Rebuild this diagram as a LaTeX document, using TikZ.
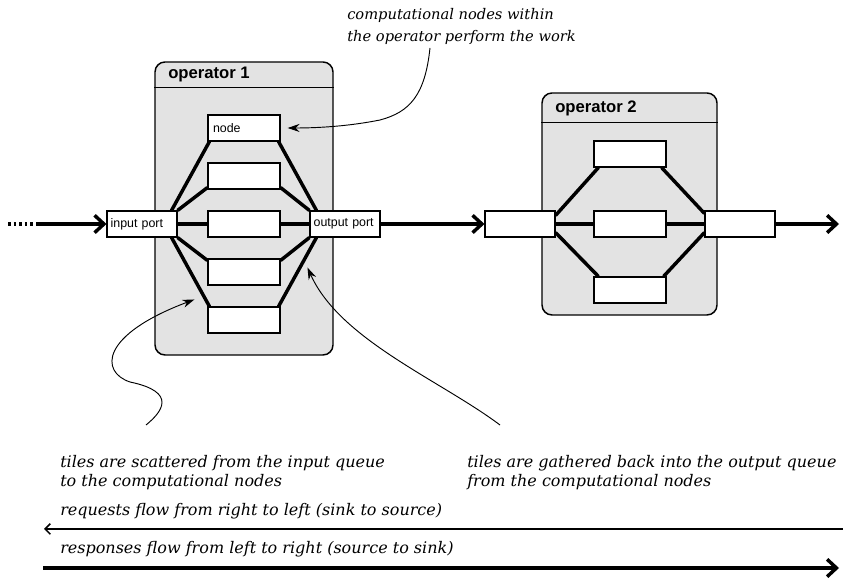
\documentclass[tikz,border=0pt]{standalone}
\usepackage{fontspec}
\setmainfont{DejaVu Serif}
\newfontfamily\sansf{Liberation Sans}
\usetikzlibrary{arrows.meta,calc}
\pgfdeclarelayer{back}
\pgfdeclarelayer{mid}
\pgfsetlayers{back,mid,main}
\tikzset{
 opbox/.style={draw=black, line width=1.1pt, fill=gray!22, rounded corners=7.5pt, inner sep=0pt},
 cnode/.style={draw=black, fill=white, line width=0.8pt, inner xsep=3.75pt, inner ysep=0pt,
   text width=46.5pt, minimum width=54pt, minimum height=19.5pt, align=left,
   font=\sansf\fontsize{9.3}{10}\selectfont},
 port/.style={cnode, inner xsep=2.75pt, text width=47pt, minimum width=52.5pt},
 link/.style={line width=2.6pt},
 flow/.style={line width=2.6pt, -{Straight Barb[length=7pt,width=13pt]}},
 callout/.style={line width=0.7pt, -{Stealth[length=9pt,width=6pt]}},
 note/.style={font=\itshape\fontsize{12}{14.5}\selectfont, align=left, inner sep=0pt, anchor=north west},
 topnote/.style={note, font=\itshape\fontsize{11}{16.5}\selectfont},
 oneline/.style={note, anchor=base west},
 oplabel/.style={font=\sansf\bfseries\fontsize{12.5}{14}\selectfont, inner sep=0pt, anchor=base west},
}
\begin{document}
\begin{tikzpicture}[x=0.75pt,y=-0.75pt]
\useasboundingbox (0,0) rectangle (843,580);

% operator boxes
\begin{pgfonlayer}{back}
\node[opbox, minimum width=133.5pt, minimum height=219.75pt] (op1) at (244,208.5) {};
\node[opbox, minimum width=131.25pt, minimum height=166.5pt] (op2) at (629.5,204) {};
\end{pgfonlayer}
\draw[line width=0.8pt] ($(op1.north west)+(0,26)$) -- ($(op1.north east)+(0,26)$);
\draw[line width=0.8pt] ($(op2.north west)+(0,30)$) -- ($(op2.north east)+(0,30)$);
\node[oplabel] (op1lbl) at (168,79) {operator 1};
\node[oplabel] (op2lbl) at (555,113) {operator 2};

% operator 1 contents
\node[port] (ip) at (142,224) {input port};
\node[port] (opp) at (345,224) {output port};
\node[cnode] (n1) at (244,128) {node};
\node[cnode] (n2) at (244,176) {};
\node[cnode] (n3) at (244,224) {};
\node[cnode] (n4) at (244,272) {};
\node[cnode] (n5) at (244,320) {};

% operator 2 contents
\node[port] (i2) at (520,224) {};
\node[port] (o2) at (740,224) {};
\node[cnode] (m1) at (630,154) {};
\node[cnode] (m2) at (630,224) {};
\node[cnode] (m3) at (630,290) {};

\begin{pgfonlayer}{mid}
\draw[link] ($(ip.north east)+(-6,0)$) -- ($(n1.south west)+(2,0)$);
\draw[link] (ip.north east) -- ($(n2.south west)+(0,-2)$);
\draw[link] (ip.east) -- (n3.west);
\draw[link] (ip.south east) -- ($(n4.north west)+(0,2)$);
\draw[link] ($(ip.south east)+(-6,0)$) -- ($(n5.north west)+(2,0)$);
\draw[link] ($(n1.south east)+(-2,0)$) -- ($(opp.north west)+(7,0)$);
\draw[link] ($(n2.south east)+(0,-2)$) -- (opp.north west);
\draw[link] (n3.east) -- (opp.west);
\draw[link] ($(n4.north east)+(0,2)$) -- (opp.south west);
\draw[link] ($(n5.north east)+(-2,0)$) -- ($(opp.south west)+(7,0)$);

\draw[link] ($(i2.north east)+(0,5)$) -- ($(m1.south west)+(5,0)$);
\draw[link] (i2.east) -- (m2.west);
\draw[link] ($(i2.south east)+(0,-5)$) -- ($(m3.north west)+(5,0)$);
\draw[link] ($(m1.south east)+(-5,0)$) -- ($(o2.north west)+(0,3)$);
\draw[link] (m2.east) -- (o2.west);
\draw[link] ($(m3.north east)+(-3,0)$) -- ($(o2.south west)+(0,-5)$);
\end{pgfonlayer}

% main flow
\coordinate (src) at (8,224);
\coordinate (srcB) at (38,224);
\coordinate (sink) at (839,224);
\draw[line width=2.6pt, dash pattern=on 2pt off 2.2pt] (src) -- (srcB);
\draw[flow] (srcB) -- (ip.west);
\draw[flow] (opp.east) -- (i2.west);
\draw[flow] (o2.east) -- (sink);

% notes
\node[topnote] (t1) at (347,8) {computational nodes within\\the operator perform the work};
\node[note] (t2) at (60,455) {tiles are scattered from the input queue\\to the computational nodes};
\node[note] (t3) at (467,455) {tiles are gathered back into the output queue\\from the computational nodes};
\node[oneline] (t4) at (60,516) {requests flow from right to left (sink to source)};
\node[oneline] (t5) at (60,554) {responses flow from left to right (source to sink)};

% callouts
\coordinate (c1) at (430,48);
\coordinate (c2) at (146,425);
\coordinate (c3) at (500,425);
\draw[callout] (c1) .. controls (425,95) and (410,112) .. (380,120)
   .. controls (350,126) and (320,128) .. ($(n1.east)+(7,0)$);
\draw[callout] (c2) .. controls (162,412) and (178,392) .. (130,382)
   .. controls (100,372) and (100,335) .. ($(n5.north west)+(-13,-7)$);
\draw[callout] (c3) .. controls (440,380) and (340,340) .. ($(opp.south west)+(-2,30)$);

% direction arrows
\coordinate (rqR) at (843,529);
\coordinate (rqL) at (44,529);
\coordinate (rsL) at (43,568);
\coordinate (rsR) at (839,568);
\draw[line width=1.1pt, -{Straight Barb[length=4pt,width=8pt]}] (rqR) -- (rqL);
\draw[flow] (rsL) -- (rsR);
\end{tikzpicture}
\end{document}
